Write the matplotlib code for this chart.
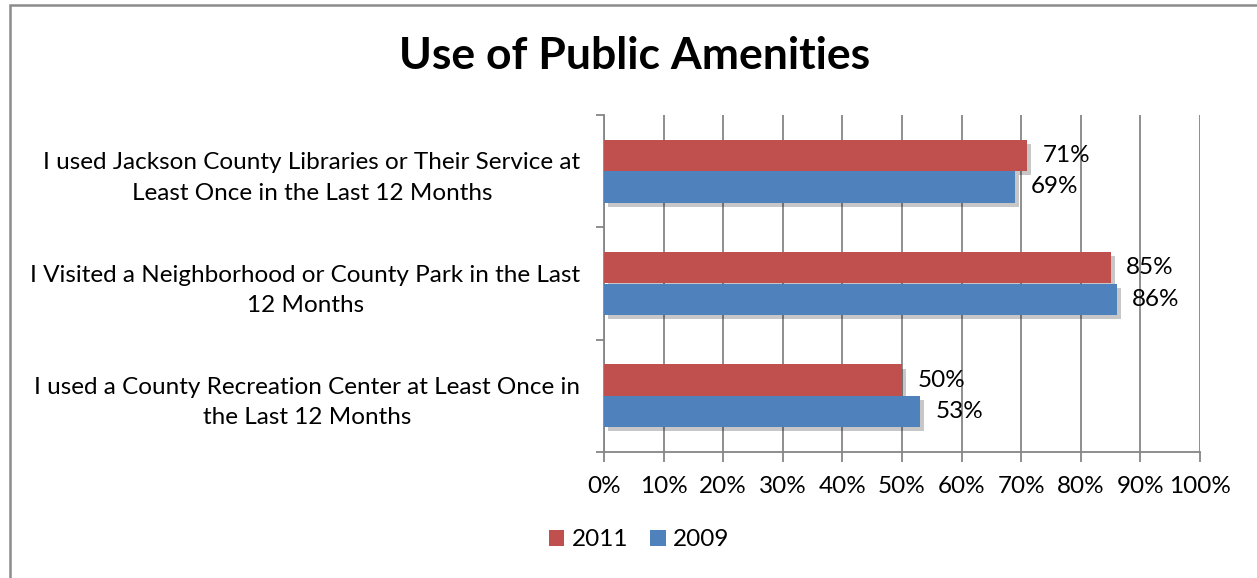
import matplotlib
matplotlib.use("Agg")
import matplotlib.pyplot as plt
import matplotlib.patheffects as pe
from matplotlib.patches import Rectangle, Patch
import numpy as np

categories = [
    "I used Jackson County Libraries or Their Service at\nLeast Once in the Last 12 Months",
    "I Visited a Neighborhood or County Park in the Last\n12 Months",
    "I used a County Recreation Center at Least Once in\nthe Last 12 Months",
]
series_names = ["2011", "2009"]
values_2011 = [71, 85, 50]
values_2009 = [69, 86, 53]
xticks = [0, 10, 20, 30, 40, 50, 60, 70, 80, 90, 100]

RED = "#C0504D"
BLUE = "#4F81BD"
GRID = "#868686"
FONT = ["Lato", "DejaVu Sans"]
plt.rcParams["font.family"] = FONT

fig = plt.figure(figsize=(12.57, 5.78), dpi=100)
W, H = 1257, 578
ax = fig.add_axes([604 / W, 1 - 452 / H, (1200 - 604) / W, (452 - 115) / H])

y = np.arange(len(categories))
h = 0.28
shadow = [pe.SimplePatchShadow(offset=(3, -3), shadow_rgbFace="#000000", alpha=0.22), pe.Normal()]
b1 = ax.barh(y - h / 2, values_2011, height=h, color=RED, zorder=3)
b2 = ax.barh(y + h / 2, values_2009, height=h, color=BLUE, zorder=3)
for b in list(b1) + list(b2):
    b.set_path_effects(shadow)

FS = 17.5
for yi, v in zip(y - h / 2, values_2011):
    ax.text(v + 2.6, yi, f"{v}%", va="center", ha="left", fontsize=FS, zorder=4)
for yi, v in zip(y + h / 2, values_2009):
    ax.text(v + 2.6, yi, f"{v}%", va="center", ha="left", fontsize=FS, zorder=4)

ax.set_xlim(0, 100)
ax.set_ylim(2.5, -0.5)
ax.set_xticks(xticks)
ax.set_xticklabels([f"{t}%" for t in xticks], fontsize=FS)
ax.xaxis.grid(True, color=GRID, linewidth=1.3, zorder=0)
ax.set_axisbelow(True)

ax.set_yticks([-0.5, 0.5, 1.5, 2.5])
ax.set_yticklabels([])
ax.set_yticks(y, minor=True)
ax.set_yticklabels(categories, minor=True, fontsize=FS, multialignment="center", linespacing=1.55)
ax.tick_params(axis="y", which="minor", length=0, pad=17)
ax.tick_params(axis="y", which="major", length=6, color=GRID, width=1.3)
ax.tick_params(axis="x", length=7, color=GRID, width=1.3, pad=10)

for s in ["top", "right"]:
    ax.spines[s].set_visible(False)
for s in ["left", "bottom"]:
    ax.spines[s].set_color(GRID)
    ax.spines[s].set_linewidth(1.3)

fig.text(635 / W, 1 - 56 / H, "Use of Public Amenities", ha="center", va="center",
         fontsize=32, fontweight="bold")

handles = [Patch(facecolor=RED), Patch(facecolor=BLUE)]
fig.legend(handles=handles, labels=series_names, loc="center", bbox_to_anchor=(639 / W, 1 - 540 / H),
           ncol=2, frameon=False, fontsize=FS, handlelength=0.65, handleheight=0.65,
           handletextpad=0.3, columnspacing=0.9)

fig.patches.append(Rectangle((9.5 / W, -0.05), 1.2, 1 - 4.5 / H + 0.05, transform=fig.transFigure,
                             fill=False, edgecolor="#8C8C8C", linewidth=1.8))

fig.savefig("out.png", dpi=100)
